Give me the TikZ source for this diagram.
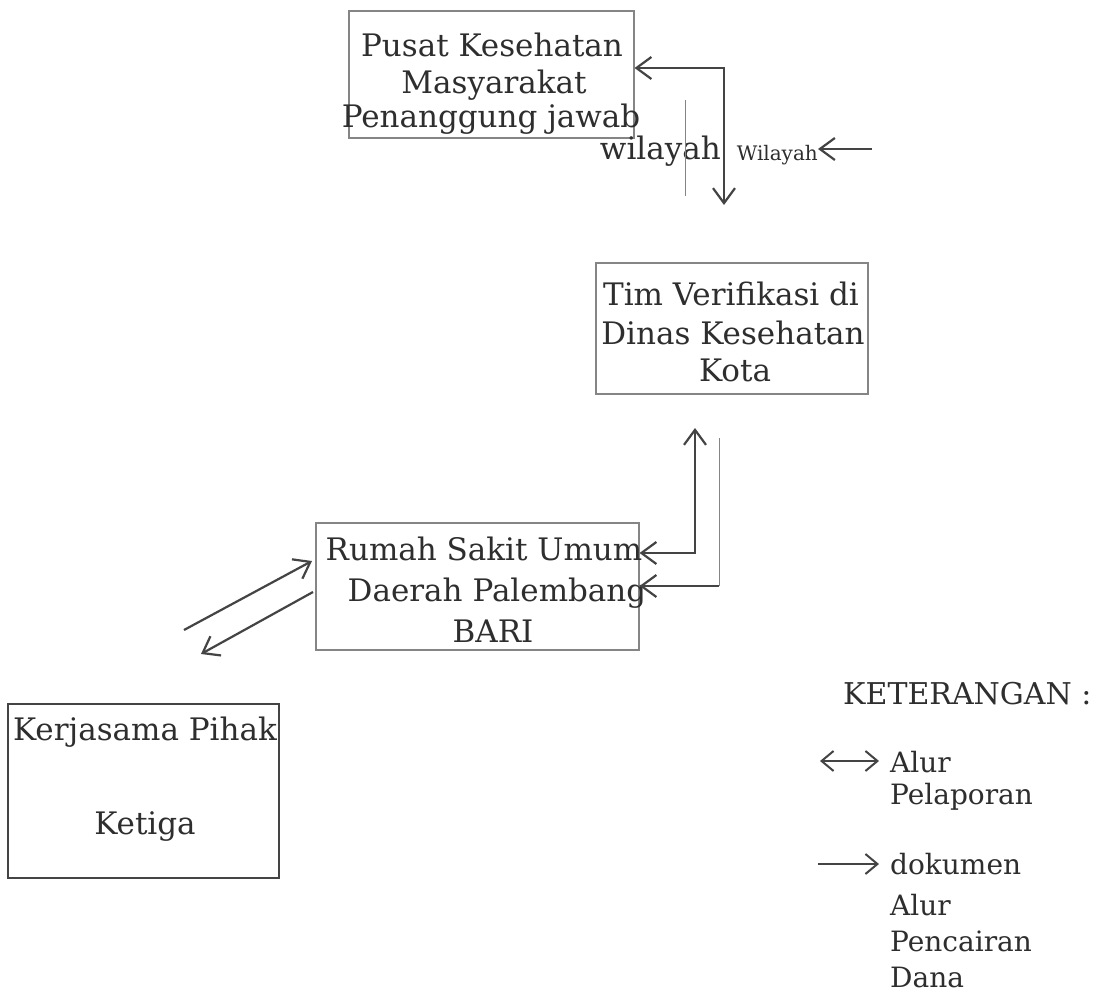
\documentclass[tikz,border=0pt]{standalone}
\usepackage{fontspec}
\setmainfont{DejaVu Serif}
\usetikzlibrary{arrows.meta}
\definecolor{ink}{HTML}{2E2E2E}
\definecolor{wirec}{HTML}{444444}
\definecolor{framec}{HTML}{858585}
\tikzset{
 box/.style={draw=framec, line width=1.1pt, inner sep=0pt},
 heavybox/.style={draw=wirec, line width=1.8pt, inner sep=0pt},
 txt/.style={text=ink, inner sep=0pt, font=\fontsize{31}{37}\selectfont, anchor=base},
 smalltxt/.style={text=ink, inner sep=0pt, font=\fontsize{20}{24}\selectfont, anchor=base east},
 legtxt/.style={text=ink, inner sep=0pt, font=\fontsize{28}{34}\selectfont, anchor=base west},
 wire/.style={draw=wirec, line width=2.2pt},
 hair/.style={draw=framec, line width=1pt},
 arr/.style={wire, -{Straight Barb[length=15pt,width=22pt]}},
 dbl/.style={wire, {Straight Barb[length=15pt,width=22pt]}-{Straight Barb[length=15pt,width=22pt]}},
 legarr/.style={draw=wirec, line width=2pt, -{Straight Barb[length=12pt,width=20pt]}},
 legdbl/.style={draw=wirec, line width=2pt, {Straight Barb[length=12pt,width=20pt]}-{Straight Barb[length=12pt,width=20pt]}},
}
\begin{document}
\begin{tikzpicture}[x=1pt,y=-1pt]
\fill[white] (0,0) rectangle (1096,998);
\useasboundingbox (0,0) rectangle (1096,998);

% boxes
\node[box, minimum width=285pt, minimum height=127pt] (b1) at (491.5,74.5) {};
\node[box, minimum width=272pt, minimum height=131pt] (b2) at (732,328.5) {};
\node[box, minimum width=323pt, minimum height=127pt] (b3) at (477.5,586.5) {};
\node[heavybox, minimum width=271pt, minimum height=174pt] (b4) at (143.5,791) {};

% box texts
\node[txt] (t1a) at (492,57) {Pusat Kesehatan};
\node[txt] (t1b) at (494,93) {Masyarakat};
\node[txt] (t1c) at (491,128) {Penanggung jawab};
\node[txt, anchor=base east] (t1d) at (721,159) {wilayah};
\node[smalltxt] (ws) at (818,160) {Wilayah};

\node[txt] (t2a) at (731,305) {Tim Verifikasi di};
\node[txt] (t2b) at (733,344) {Dinas Kesehatan};
\node[txt] (t2c) at (735,381) {Kota};

\node[txt] (t3a) at (484,560) {Rumah Sakit Umum};
\node[txt] (t3b) at (497,601) {Daerah Palembang};
\node[txt] (t3c) at (493,642) {BARI};

\node[txt] (t4a) at (145,740) {Kerjasama Pihak};
\node[txt] (t4b) at (145,834) {Ketiga};

% connectors
\coordinate (k1) at (724,68);
\coordinate (k1e) at (724,205);
\draw[dbl] (b1.east |- k1) -- (k1) -- (k1e);

\coordinate (w0) at (872,149);
\draw[arr] (w0) -- (w0 -| ws.east);

\coordinate (h1a) at (685,100);
\coordinate (h1b) at (685,196);
\draw[hair] (h1a) -- (h1b);

\coordinate (k2) at (695,553);
\coordinate (k2t) at (695,428);
\draw[dbl] (b3.east |- k2) -- (k2) -- (k2t);

\coordinate (k3t) at (719,438);
\coordinate (k3) at (719,586);
\draw[hair] (k3t) -- (k3);
\draw[arr] (k3) -- (b3.east |- k3);

\coordinate (d1s) at (184,630);
\coordinate (d1e) at (312,561);
\draw[arr] (d1s) -- (d1e);
\coordinate (d2s) at (313,592);
\coordinate (d2e) at (201,654);
\draw[arr] (d2s) -- (d2e);

% legend
\node[txt, anchor=base west, font=\fontsize{30}{36}\selectfont] (ket) at (843,704) {KETERANGAN :};
\coordinate (la1) at (820,761);
\coordinate (la2) at (879,761);
\draw[legdbl] (la1) -- (la2);
\node[legtxt] (l1) at (890,772) {Alur};
\node[legtxt] (l2) at (890,804) {Pelaporan};
\coordinate (lb1) at (818,864);
\coordinate (lb2) at (879,864);
\draw[legarr] (lb1) -- (lb2);
\node[legtxt] (l3) at (890,874) {dokumen};
\node[legtxt] (l4) at (890,915) {Alur};
\node[legtxt] (l5) at (890,951) {Pencairan};
\node[legtxt] (l6) at (890,987) {Dana};
\end{tikzpicture}
\end{document}
